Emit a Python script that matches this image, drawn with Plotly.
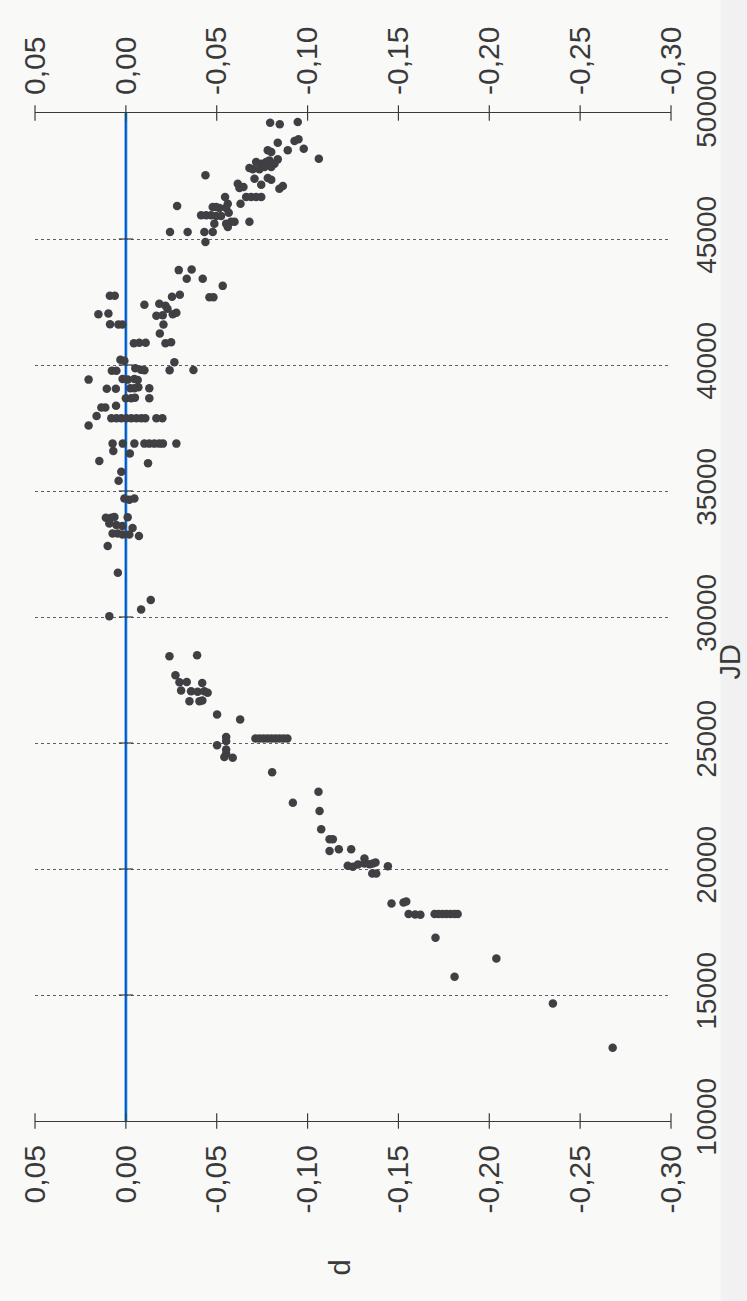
import plotly.graph_objects as go

# Axis ticks and labels
d_ticks = [0.05, 0.00, -0.05, -0.10, -0.15, -0.20, -0.25, -0.30]
d_labels = ["0,05", "0,00", "-0,05", "-0,10", "-0,15", "-0,20", "-0,25", "-0,30"]
jd_ticks = [10000, 15000, 20000, 25000, 30000, 35000, 40000, 45000, 50000]
jd_labels = ["10000", "15000", "20000", "25000", "30000", "35000", "40000", "45000", "50000"]

# Observations, grouped by epoch (JD, d)
jd_1 = [49610, 49550, 49640, 48820, 48890, 48955, 48580, 48185, 48520, 48520, 48450, 48160,
        48055, 47990, 48055, 48120, 47990, 47855, 47855, 47815, 47765, 47765, 47530, 47395,
        47420, 47355, 47155, 47195, 47025, 47065, 46995, 47105, 46670, 46670, 46670, 46670,
        46670, 46400, 46400, 46235, 46045, 46270, 46270, 46235, 46310, 45945, 45945, 45945,
        45915, 45915, 45680, 45610, 45610, 45680, 45680, 45480, 45280, 45280, 45280, 45280,
        44885]
d_1 = [-0.0794, -0.0847, -0.0946, -0.0836, -0.0928, -0.0950, -0.0979, -0.1062, -0.0891, -0.0781,
       -0.0800, -0.0836, -0.0717, -0.0745, -0.0772, -0.0790, -0.0818, -0.0800, -0.0763, -0.0680,
       -0.0698, -0.0735, -0.0438, -0.0708, -0.0781, -0.0800, -0.0745, -0.0616, -0.0625, -0.0647,
       -0.0845, -0.0864, -0.0662, -0.0689, -0.0717, -0.0745, -0.0546, -0.0631, -0.0561, -0.0552,
       -0.0566, -0.0478, -0.0497, -0.0515, -0.0282, -0.0414, -0.0442, -0.0469, -0.0497, -0.0524,
       -0.0680, -0.0487, -0.0552, -0.0579, -0.0598, -0.0561, -0.0243, -0.0340, -0.0432, -0.0478,
       -0.0438]

jd_2 = [43765, 43790, 43420, 43420, 43140, 42685, 42685, 42745, 42745, 42390, 42430, 42350,
        42230, 42705, 42785, 42010, 42045, 41955, 41975, 42015, 42070, 41615, 41610, 41610,
        41610, 41250]
d_2 = [-0.0291, -0.0362, -0.0335, -0.0423, -0.0533, -0.0460, -0.0482, 0.0088, 0.0061, -0.0102,
       -0.0184, -0.0218, -0.0229, -0.0254, -0.0297, 0.0151, 0.0096, -0.0168, -0.0203, -0.0258,
       -0.0278, 0.0087, 0.0041, 0.0019, -0.0207, -0.0187]

jd_3 = [40865, 40885, 40885, 40865, 40905, 40210, 40170, 40105, 39775, 39775, 39875, 39815,
        39795, 39795, 39800, 39420, 39445, 39420, 39445, 39405, 39060, 39060, 39080, 39080,
        39120, 39080, 38685, 38685, 38705, 38685, 38310, 38310, 38380, 37980, 37595,
        37885, 37885, 37885, 37885, 37885, 37885, 37885, 37885, 37885, 37885,
        36880, 36880, 36880, 36880, 36880, 36880, 36880, 36880, 36880,
        36585, 36485, 36195, 36100, 35760, 35405]
d_3 = [-0.0044, -0.0074, -0.0109, -0.0218, -0.0249, 0.0030, 0.0008, -0.0267, 0.0077, 0.0052,
       -0.0052, -0.0083, -0.0102, -0.0241, -0.0372, 0.0205, 0.0018, -0.0010, -0.0047, -0.0065,
       0.0105, 0.0055, -0.0025, -0.0047, -0.0069, -0.0129, 0.0000, -0.0029, -0.0050, -0.0129,
       0.0135, 0.0113, 0.0054, 0.0161, 0.0205,
       0.0080, 0.0052, 0.0025, -0.0003, -0.0030, -0.0058, -0.0085, -0.0107, -0.0168, -0.0201,
       0.0073, 0.0017, -0.0047, -0.0102, -0.0129, -0.0157, -0.0184, -0.0204, -0.0278,
       0.0069, -0.0022, 0.0146, -0.0122, 0.0025, 0.0040]

jd_4 = [34705, 34650, 34705, 33940, 33940, 33970, 33960, 33710, 33655, 33615, 33535, 33315,
        33315, 33275, 33275, 33210, 32815, 31760, 30675, 30295, 30030]
d_4 = [0.0008, -0.0019, -0.0047, 0.0110, 0.0080, 0.0063, -0.0010, 0.0091, 0.0052, 0.0019,
       -0.0037, 0.0073, 0.0045, 0.0018, -0.0019, -0.0072, 0.0100, 0.0044, -0.0137, -0.0084,
       0.0091]

jd_5 = [28445, 28485, 27690, 27415, 27425, 27385, 27085, 27055, 27030, 27055, 26990, 26660,
        26660, 26690, 26135, 25935, 25235, 25075, 24915, 24745, 24570, 24440, 24415,
        25180, 25180, 25180, 25180, 25180, 25180, 25180, 25180, 25180, 23835]
d_5 = [-0.0240, -0.0392, -0.0273, -0.0295, -0.0335, -0.0420, -0.0304, -0.0359, -0.0395, -0.0432,
       -0.0450, -0.0350, -0.0405, -0.0421, -0.0502, -0.0629, -0.0552, -0.0552, -0.0502, -0.0552,
       -0.0552, -0.0542, -0.0588,
       -0.0713, -0.0735, -0.0757, -0.0779, -0.0801, -0.0823, -0.0845, -0.0867, -0.0889, -0.0805]

jd_6 = [23065, 22630, 22300, 21575, 21180, 21180, 20715, 20785, 20785, 20125, 20085, 20180,
        20420, 20215, 20190, 20215, 20255, 19820, 19820, 20105, 18630, 18670, 18710, 18210,
        18195, 18180, 18210, 18210, 18210, 18210, 18210, 18210, 18210,
        17270, 16450, 15725, 14667, 12910]
d_6 = [-0.1060, -0.0919, -0.1066, -0.1075, -0.1121, -0.1139, -0.1121, -0.1172, -0.1240, -0.1221,
       -0.1249, -0.1277, -0.1313, -0.1313, -0.1341, -0.1359, -0.1374, -0.1356, -0.1378, -0.1442,
       -0.1462, -0.1528, -0.1543, -0.1556, -0.1592, -0.1621,
       -0.1699, -0.1721, -0.1743, -0.1765, -0.1787, -0.1809, -0.1826,
       -0.1704, -0.2039, -0.1809, -0.2350, -0.2679]

jd_all = jd_1 + jd_2 + jd_3 + jd_4 + jd_5 + jd_6
d_all = d_1 + d_2 + d_3 + d_4 + d_5 + d_6

FONT = "Liberation Sans, Arial, Helvetica, sans-serif"
INK = "#3a3a3a"
BG = "#f9f9f8"

fig = go.Figure()

# reference line d = 0 across the whole JD range
fig.add_trace(go.Scatter(x=[0, 0], y=[jd_ticks[0], jd_ticks[-1]], mode="lines",
                         line=dict(color="#2fc4e6", width=3.2), hoverinfo="skip",
                         showlegend=False))
fig.add_trace(go.Scatter(x=[0, 0], y=[jd_ticks[0], jd_ticks[-1]], mode="lines",
                         line=dict(color="#2b34c8", width=1.6), hoverinfo="skip",
                         showlegend=False))
# small ticks on the d = 0 line
fig.add_trace(go.Scatter(x=[0] * (len(jd_ticks) - 2), y=jd_ticks[1:-1], mode="markers",
                         marker=dict(symbol="line-ew", size=10,
                                     line=dict(color=INK, width=1.2)),
                         hoverinfo="skip", showlegend=False))

# crossing ticks on the two d axes
fig.add_trace(go.Scatter(x=d_ticks + d_ticks,
                         y=[jd_ticks[0]] * len(d_ticks) + [jd_ticks[-1]] * len(d_ticks),
                         mode="markers", cliponaxis=False,
                         marker=dict(symbol="line-ns", size=11,
                                     line=dict(color=INK, width=1.2)),
                         hoverinfo="skip", showlegend=False))

# observations
fig.add_trace(go.Scatter(x=d_all, y=jd_all, mode="markers",
                         marker=dict(size=8.5, color="#403f44", line=dict(width=0)),
                         showlegend=False))

# invisible trace to carry the top axis
fig.add_trace(go.Scatter(x=[0.05], y=[30000], xaxis="x2", mode="markers",
                         marker=dict(opacity=0), hoverinfo="skip", showlegend=False))

dfont = dict(family=FONT, size=30, color=INK)
jdfont = dict(family=FONT, size=28, color=INK)

fig.update_layout(
    width=747, height=1301,
    margin=dict(l=35, r=76, t=113, b=180),
    paper_bgcolor=BG, plot_bgcolor=BG,
    xaxis=dict(range=[0.05, -0.30], showline=True, linecolor=INK, linewidth=1.2,
               ticks="", tickvals=d_ticks, ticktext=d_labels, tickangle=-90,
               tickfont=dfont, ticklabelstandoff=11, showgrid=False, zeroline=False),
    xaxis2=dict(range=[0.05, -0.30], overlaying="x", side="top", anchor="y",
                showline=True, linecolor=INK, linewidth=1.2,
                ticks="", tickvals=d_ticks, ticktext=d_labels, tickangle=-90,
                tickfont=dfont, ticklabelstandoff=11, showgrid=False, zeroline=False),
    yaxis=dict(range=[10000, 50000], side="right", showline=False, ticks="",
               tickvals=jd_ticks, ticktext=jd_labels, tickangle=-90, tickfont=jdfont,
               ticklabelstandoff=16, showgrid=True, griddash="dot", gridcolor="#5f5f6a",
               gridwidth=1.2, zeroline=False),
    annotations=[
        dict(text="JD", xref="paper", yref="paper", x=1.093, y=0.455, textangle=-90,
             xanchor="center", yanchor="middle",
             showarrow=False, font=dict(family=FONT, size=29, color=INK)),
        dict(text="d", xref="paper", yref="paper", x=0.48, y=-0.145, textangle=-90,
             xanchor="center", yanchor="middle",
             showarrow=False, font=dict(family=FONT, size=29, color=INK)),
    ],
    shapes=[
        dict(type="rect", xref="paper", yref="paper", x0=1.078, x1=1.2, y0=-0.3, y1=1.2,
             fillcolor="#f1f1f1", line=dict(width=0), layer="below"),
    ],
)

fig.write_html("out.html")
